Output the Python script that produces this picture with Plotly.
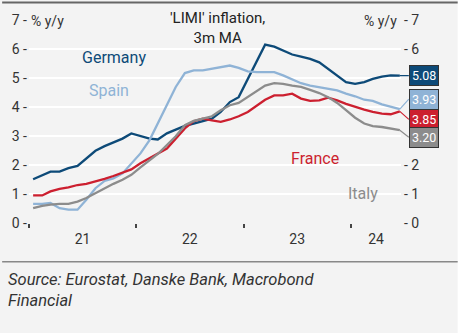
import plotly.graph_objects as go
import pandas as pd

months = pd.date_range("2021-01-01", periods=42, freq="MS") + pd.Timedelta(days=14)

germany = [1.51, 1.66, 1.77, 1.77, 1.89, 1.97, 2.23, 2.49, 2.65, 2.77, 2.91, 3.09, 2.99, 2.91,
           2.88, 3.09, 3.22, 3.35, 3.43, 3.52, 3.60, 3.83, 4.17, 4.34, 4.97, 5.60, 6.15, 6.08,
           5.94, 5.81, 5.74, 5.66, 5.54, 5.31, 5.09, 4.86, 4.80, 4.86, 4.97, 5.05, 5.09, 5.08]
spain = [0.66, 0.66, 0.69, 0.51, 0.46, 0.46, 0.80, 1.20, 1.45, 1.54, 1.71, 2.06, 2.40, 2.86,
         3.43, 4.06, 4.69, 5.17, 5.26, 5.26, 5.31, 5.37, 5.43, 5.35, 5.23, 5.20, 5.20, 5.20,
         5.09, 4.94, 4.82, 4.74, 4.69, 4.63, 4.57, 4.46, 4.37, 4.25, 4.21, 4.09, 4.00, 3.93]
france = [0.95, 0.95, 1.09, 1.18, 1.23, 1.31, 1.35, 1.43, 1.52, 1.62, 1.74, 1.85, 2.06, 2.23,
          2.38, 2.57, 2.91, 3.26, 3.51, 3.60, 3.54, 3.49, 3.57, 3.68, 3.83, 4.06, 4.25, 4.40,
          4.40, 4.46, 4.29, 4.21, 4.23, 4.32, 4.23, 4.11, 4.00, 3.91, 3.83, 3.77, 3.75, 3.85]
italy = [0.51, 0.59, 0.63, 0.66, 0.66, 0.74, 0.86, 1.03, 1.20, 1.35, 1.49, 1.66, 1.92, 2.17,
         2.38, 2.69, 2.99, 3.37, 3.52, 3.60, 3.68, 3.89, 4.06, 4.14, 4.34, 4.57, 4.74, 4.82,
         4.80, 4.74, 4.69, 4.59, 4.48, 4.34, 4.14, 3.89, 3.63, 3.43, 3.34, 3.31, 3.26, 3.20]

names = ["Germany", "Spain", "France", "Italy"]
colors = ["#0d4a78", "#8fb3d6", "#cc1f2f", "#8c8c8c"]
series = [germany, spain, france, italy]
label_pos = [(112, 57), (107, 90), (315, 158), (363, 193)]  # pixel positions for series names
box_offsets = [0, -10, 8, 7]

year_ticks = ["2021-01-01", "2022-01-01", "2023-01-01", "2024-01-01"]
year_mids = ["2021-07-02", "2022-07-02", "2023-07-02", "2024-03-26"]
year_labels = ["21", "22", "23", "24"]
y_ticks = [0, 1, 2, 3, 4, 5, 6, 7]
right_hidden = [3, 4, 5]  # right-axis labels covered by the value boxes

W, H = 469, 333
L, R, T, B = 27, 401, 19, 223
def px(x):
    return (x - L) / (R - L)
def py(y):
    return (B - y) / (B - T)

FONT = "Roboto"
fig = go.Figure()
for n, c, s in zip(names, colors, series):
    fig.add_trace(go.Scatter(x=months, y=s, mode="lines", name=n,
                             line=dict(color=c, width=2.3), hoverinfo="skip"))
fig.add_trace(go.Scatter(x=[months[0]], y=[0], yaxis="y2", mode="markers",
                         marker=dict(opacity=0), showlegend=False, hoverinfo="skip"))

ann = []
for n, c, (lx, ly) in zip(names, colors, label_pos):
    ann.append(dict(x=px(lx), y=py(ly), xref="paper", yref="paper", text=n, showarrow=False,
                    font=dict(family=FONT, size=16, color=c), xanchor="center", yanchor="middle"))
for c, s, off in zip(colors, series, box_offsets):
    ann.append(dict(x=months[-1], y=s[-1], xref="x", yref="y", text=f"{s[-1]:.2f}",
                    showarrow=True, arrowhead=0, arrowwidth=1.2, arrowcolor=c,
                    ax=9, ay=off, standoff=0, startstandoff=0,
                    bgcolor=c, bordercolor="#333333", borderwidth=1, borderpad=2,
                    font=dict(family=FONT, size=12.5, color="white"),
                    xanchor="left", yanchor="middle"))
ann.append(dict(x=px(217), y=py(27), xref="paper", yref="paper",
                text="'LIMI' inflation,<br>3m MA", showarrow=False,
                font=dict(family=FONT, size=15, color="#222222"), align="center",
                xanchor="center", yanchor="middle"))
ann.append(dict(x=px(27), y=py(20), xref="paper", yref="paper", text="% y/y", showarrow=False,
                xanchor="left", yanchor="middle", font=dict(family=FONT, size=14, color="#333333")))
ann.append(dict(x=px(399), y=py(20), xref="paper", yref="paper", text="% y/y", showarrow=False,
                xanchor="right", yanchor="middle", font=dict(family=FONT, size=14, color="#333333")))
ann.append(dict(x=px(4), y=py(290), xref="paper", yref="paper",
                text="<i>Source: Eurostat, Danske Bank, Macrobond<br>Financial</i>",
                showarrow=False, xanchor="left", yanchor="middle", align="left",
                font=dict(family=FONT, size=16.5, color="#333333")))

shapes = [
    dict(type="rect", xref="paper", yref="paper", x0=px(458), x1=px(470), y0=py(-2), y1=py(335),
         fillcolor="white", line=dict(width=0), layer="below"),
    dict(type="line", xref="paper", yref="paper", x0=px(0), x1=px(458), y0=py(1.5), y1=py(1.5),
         line=dict(color="#666666", width=2)),
    dict(type="line", xref="paper", yref="paper", x0=px(0), x1=px(458), y0=py(262), y1=py(262),
         line=dict(color="#888888", width=1.5)),
]

fig.update_layout(
    width=W, height=H, margin=dict(l=L, r=W - R, t=T, b=H - B),
    paper_bgcolor="#f3f3f3", plot_bgcolor="#f3f3f3", showlegend=False,
    font=dict(family=FONT, size=14, color="#333333"),
    xaxis=dict(range=["2021-01-01", "2024-06-19"], showgrid=False, zeroline=False, showline=False,
               tickmode="array", tickvals=year_mids, ticktext=year_labels, ticks="",
               ticklabelstandoff=6,
               minor=dict(tickmode="array", tickvals=year_ticks, ticks="outside", ticklen=4,
                          tickwidth=1.5, tickcolor="#444444", showgrid=False)),
    yaxis=dict(range=[0, 7], tickmode="array", tickvals=y_ticks,
               ticktext=[f"{v} -" for v in y_ticks], showgrid=True, gridcolor="white",
               gridwidth=1.5, zeroline=False, showline=False, ticks="", ticklabelstandoff=1),
    yaxis2=dict(range=[0, 7], tickmode="array", tickvals=y_ticks,
                ticktext=["" if v in right_hidden else f"- {v}" for v in y_ticks],
                overlaying="y", side="right",
                showgrid=False, zeroline=False, showline=False, ticks="", ticklabelstandoff=2),
    annotations=ann, shapes=shapes,
)
fig.write_html("out.html")
